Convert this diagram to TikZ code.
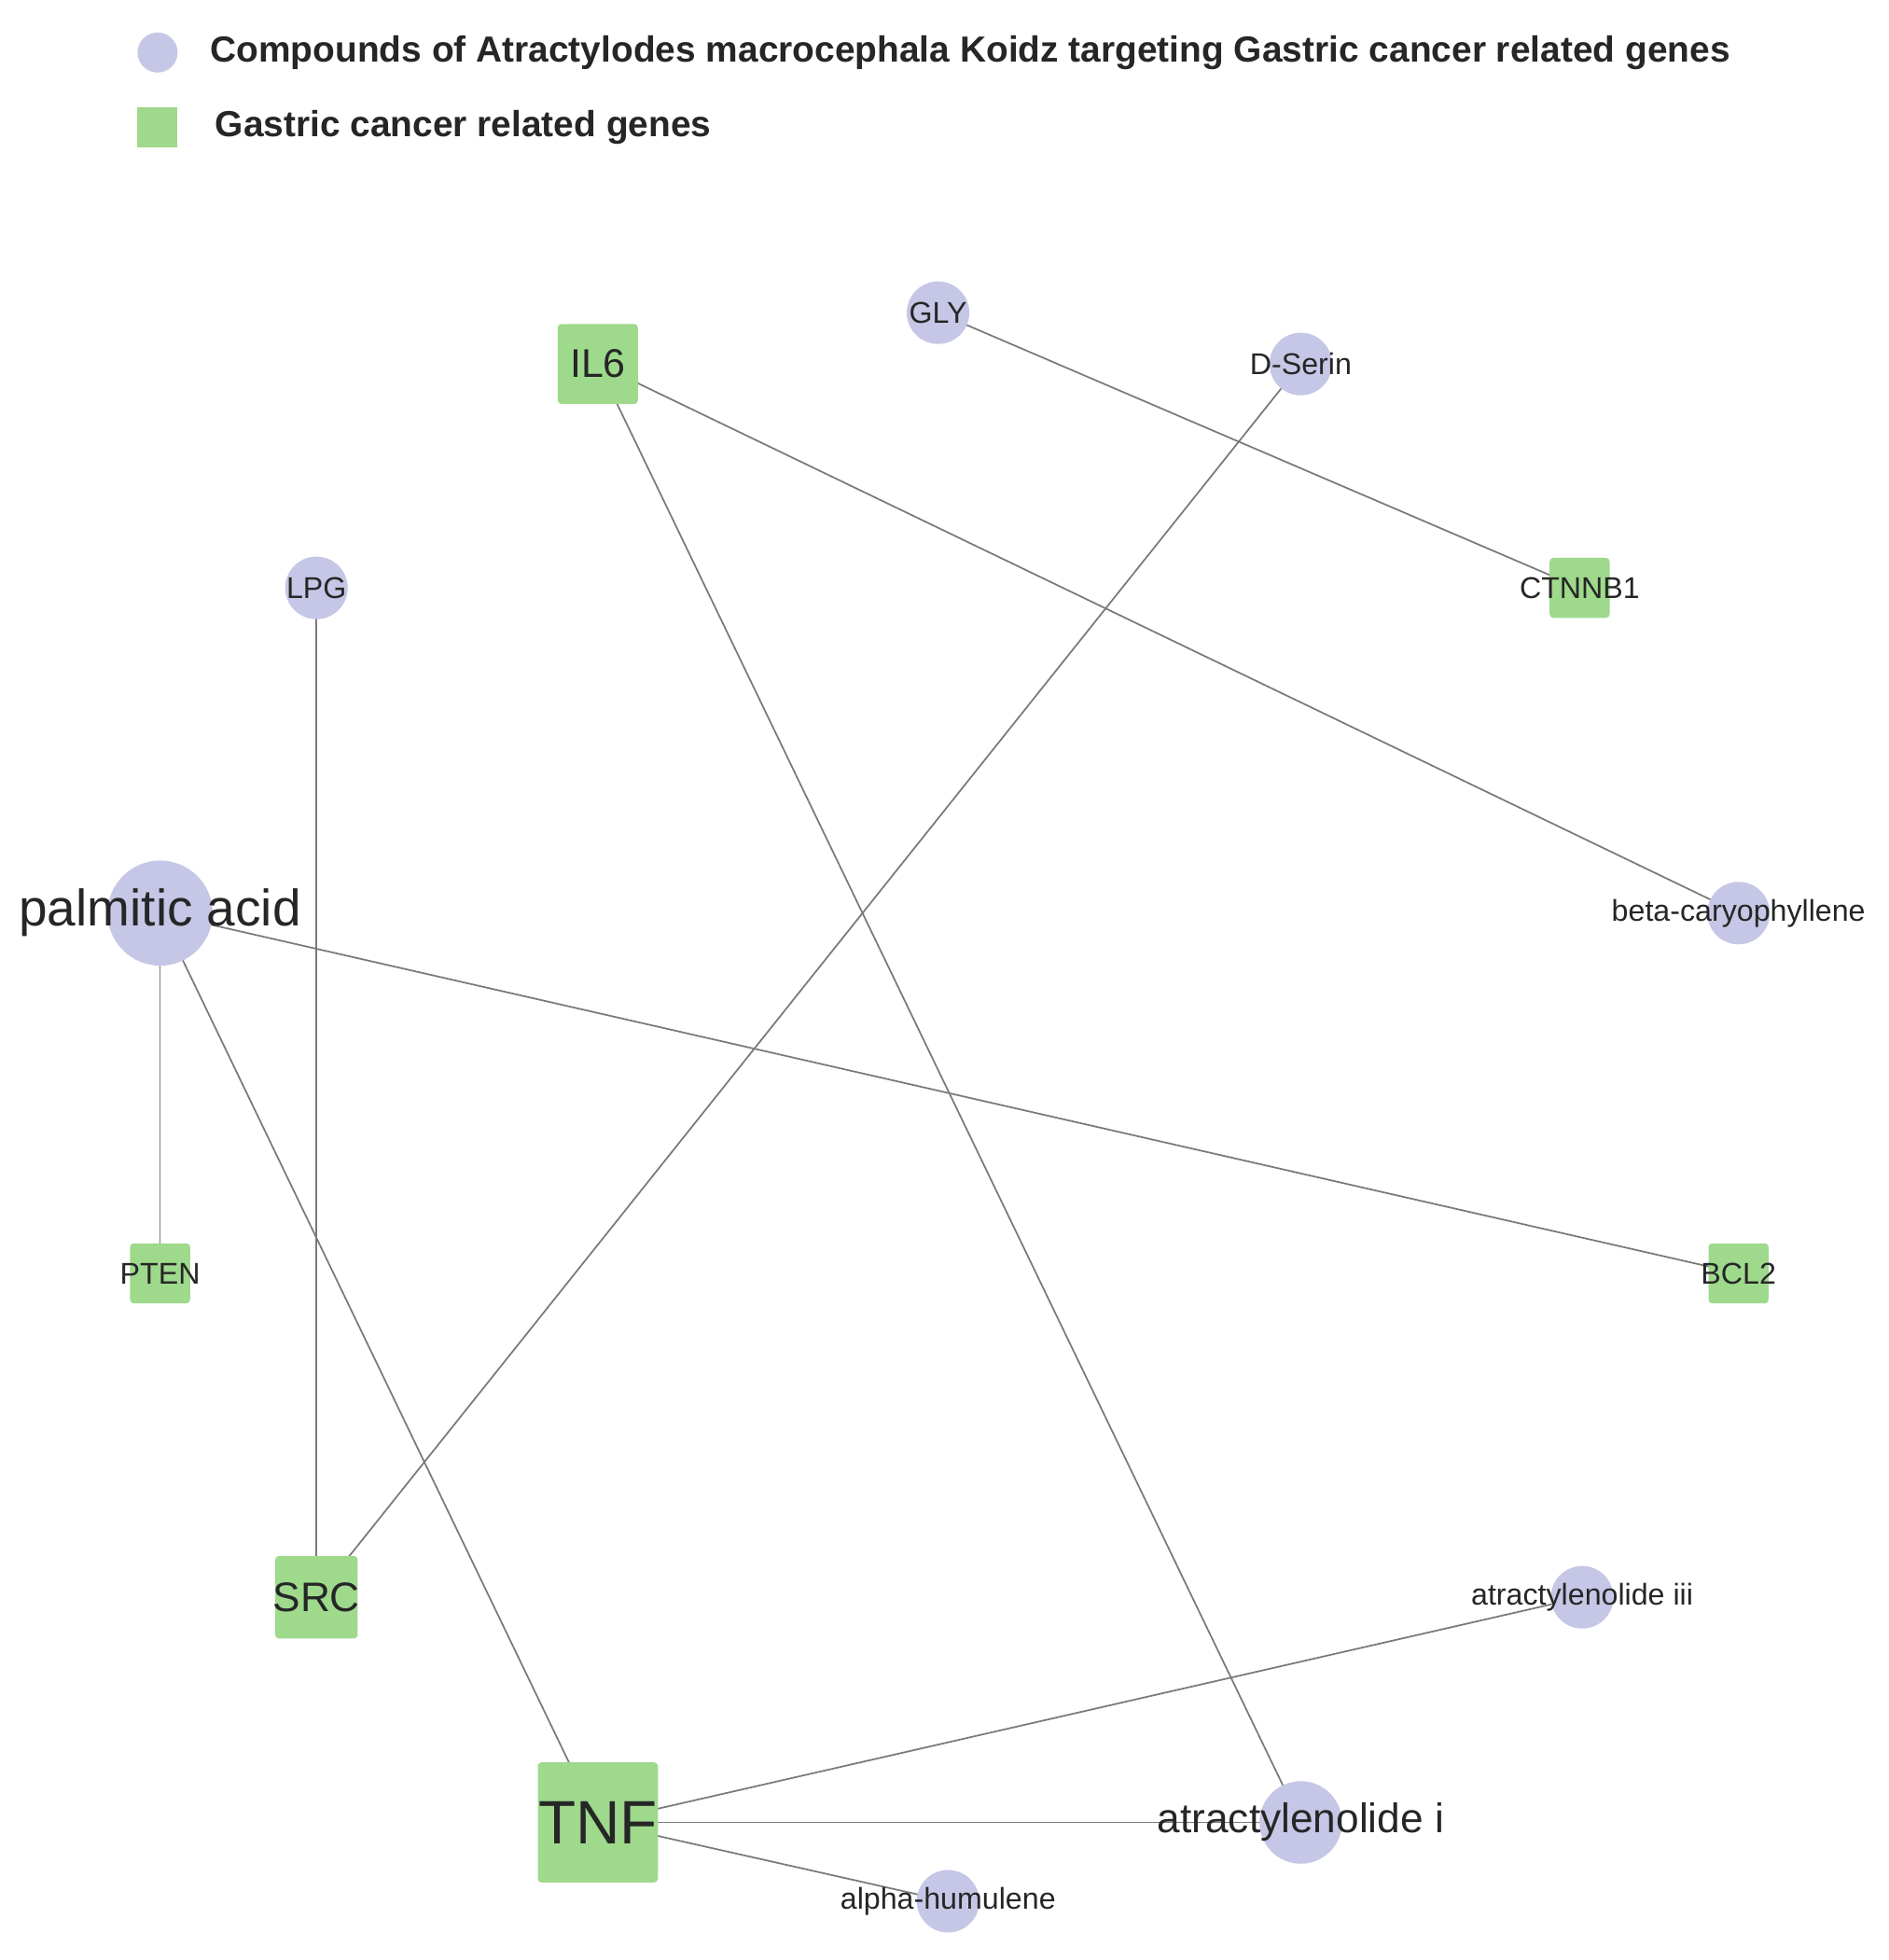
\documentclass[tikz,border=0pt]{standalone}
\usepackage{fontspec}
\setmainfont{Liberation Sans}
\definecolor{cmp}{HTML}{C6C6E6}
\definecolor{gene}{HTML}{9ED98C}
\definecolor{edge}{HTML}{7A7A7A}
\begin{document}
\begin{tikzpicture}[x=1pt,y=-1pt,
  cnode/.style={circle,fill=cmp,inner sep=0,minimum size=#1},
  gnode/.style={rectangle,rounded corners=3pt,fill=gene,inner sep=0,minimum size=#1},
  lab/.style={font=\fontsize{#1}{#1}\selectfont,text=black!85,inner sep=0},
  link/.style={draw=edge,line width=1.3pt}]
\useasboundingbox[fill=white] (0,0) rectangle (1510,1567);
% coordinates
\coordinate (gly) at (750,250);
\coordinate (dser) at (1040,291);
\coordinate (il6) at (478,291);
\coordinate (lpg) at (253,470);
\coordinate (ctn) at (1263,470);
\coordinate (pal) at (128,730);
\coordinate (beta) at (1390,730);
\coordinate (pten) at (128,1018);
\coordinate (bcl) at (1390,1018);
\coordinate (src) at (253,1277);
\coordinate (a3) at (1265,1277);
\coordinate (tnf) at (478,1457);
\coordinate (a1) at (1040,1457);
\coordinate (ah) at (758,1520);
% edges
\draw[link] (gly) -- (ctn);
\draw[link] (dser) -- (src);
\draw[link] (il6) -- (beta);
\draw[link] (il6) -- (a1);
\draw[link] (lpg) -- (src);
\draw[link] (pal) -- (pten);
\draw[link] (pal) -- (bcl);
\draw[link] (pal) -- (tnf);
\draw[link] (tnf) -- (a3);
\draw[link] (tnf) -- (a1);
\draw[link] (tnf) -- (ah);
% shapes
\node[cnode=50] (glyS) at (gly) {};
\node[cnode=50] (dserS) at (dser) {};
\node[gnode=64] (il6S) at (il6) {};
\node[cnode=50] (lpgS) at (lpg) {};
\node[gnode=48] (ctnS) at (ctn) {};
\node[cnode=84] (palS) at (pal) {};
\node[cnode=50] (betaS) at (beta) {};
\node[gnode=48] (ptenS) at (pten) {};
\node[gnode=48] (bclS) at (bcl) {};
\node[gnode=66] (srcS) at (src) {};
\node[cnode=50] (a3S) at (a3) {};
\node[gnode=96] (tnfS) at (tnf) {};
\node[cnode=66] (a1S) at (a1) {};
\node[cnode=50] (ahS) at (ah) {};
% labels
\node[lab=24] (glyL) at (gly) {GLY};
\node[lab=24] (dserL) at (dser) {D-Serin};
\node[lab=32] (il6L) at (il6) {IL6};
\node[lab=24] (lpgL) at (lpg) {LPG};
\node[lab=24] (ctnL) at (ctn) {CTNNB1};
\node[lab=41] (palL) at (pal) {palmitic acid};
\node[lab=24] (betaL) at (beta) {beta-caryophyllene};
\node[lab=24] (ptenL) at (pten) {PTEN};
\node[lab=24] (bclL) at (bcl) {BCL2};
\node[lab=33] (srcL) at (src) {SRC};
\node[lab=24] (a3L) at (a3) {atractylenolide iii};
\node[lab=49] (tnfL) at (tnf) {TNF};
\node[lab=33] (a1L) at (a1) {atractylenolide i};
\node[lab=24] (ahL) at (ah) {alpha-humulene};
% legend
\node[cnode=32] (legC) at (126,42) {};
\node[gnode=32,rounded corners=0] (legG) at (126,102) {};
\node[lab=29,font=\fontsize{29}{29}\selectfont\bfseries,anchor=west] (legCT) at (168,42) {Compounds of Atractylodes macrocephala Koidz targeting Gastric cancer related genes};
\node[lab=29,font=\fontsize{29}{29}\selectfont\bfseries,anchor=west] (legGT) at (172,102) {Gastric cancer related genes};
\end{tikzpicture}
\end{document}
